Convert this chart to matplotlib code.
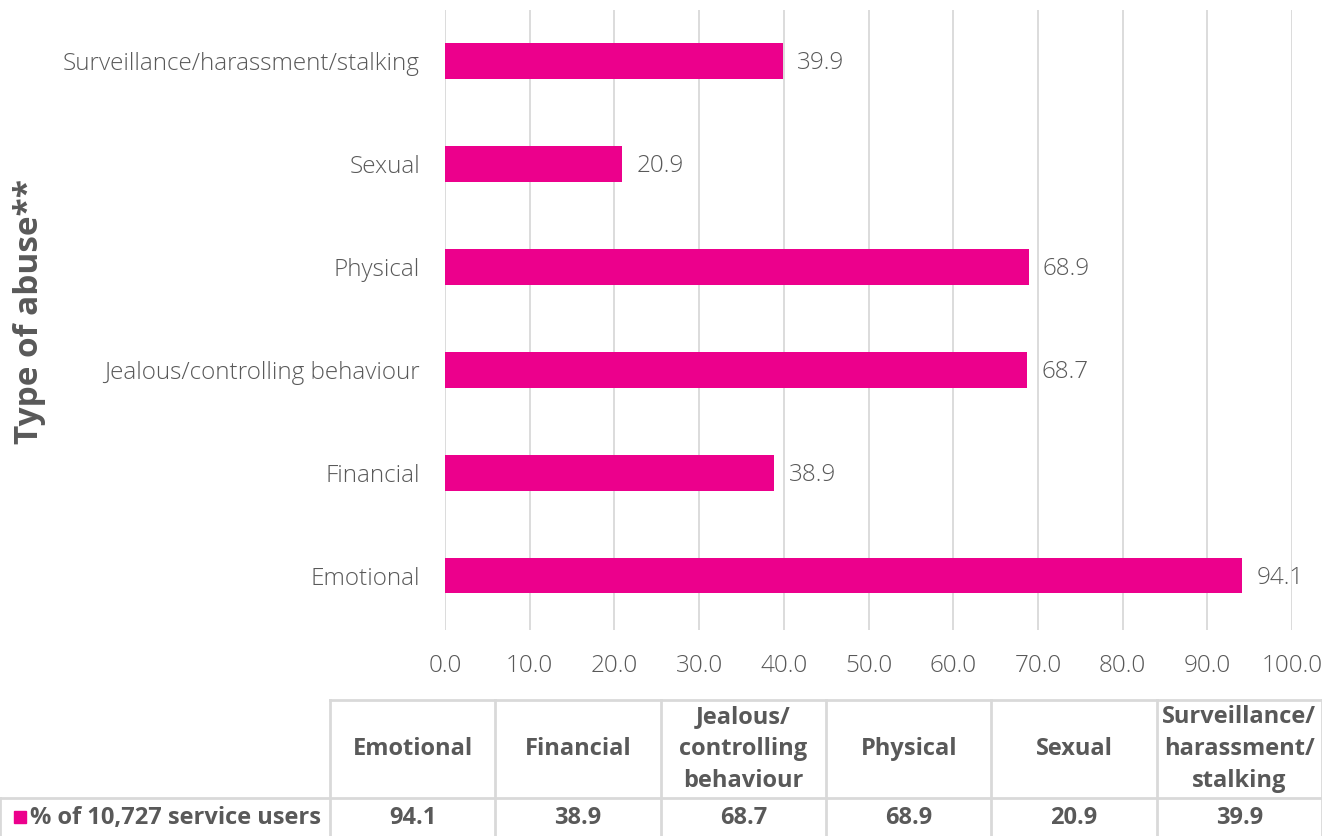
import matplotlib.pyplot as plt
import numpy as np

# Tipuri de abuz si procentele raportate
categorii = ["Emotional", "Financial", "Jealous/controlling behaviour",
             "Physical", "Sexual", "Surveillance/harassment/stalking"]
procente = [94.1, 38.9, 68.7, 68.9, 20.9, 39.9]
antet_tabel = ["Emotional", "Financial", "Jealous/\ncontrolling\nbehaviour",
               "Physical", "Sexual", "Surveillance/\nharassment/\nstalking"]
serie = "% of 10,727 service users"
axa_x = np.arange(0, 101, 10)

ROZ = "#EC008C"
GRI = "#595959"
LINIE = "#D9D9D9"

plt.rcParams["font.family"] = ["Open Sans", "DejaVu Sans"]

W, H = 1322, 836
fig = plt.figure(figsize=(W / 100, H / 100), dpi=100)

# Graficul cu bare orizontale
ax = fig.add_axes([445 / W, 1 - 630 / H, (1292 - 445) / W, (630 - 10) / H])
y = np.arange(len(categorii))
ax.barh(y, procente, height=0.35, color=ROZ, zorder=3)
for yi, v in zip(y, procente):
    ax.text(v + 1.7, yi - 0.02, f"{v:.1f}", va="center", ha="left",
            fontsize=17.5, color=GRI, fontweight="light")
ax.set_xlim(0, 100)
ax.set_ylim(-0.53, 5.5)
ax.set_xticks(axa_x)
ax.set_xticklabels([f"{t:.1f}" for t in axa_x], fontsize=17.5, color=GRI,
                   fontweight="light")
ax.set_yticks(y)
ax.set_yticklabels(categorii, fontsize=17.5, color=GRI, fontweight="light")
ax.tick_params(length=0, pad=17, axis="x")
ax.tick_params(length=0, pad=18, axis="y")
ax.grid(axis="x", color=LINIE, lw=1.3, zorder=0)
for s in ax.spines.values():
    s.set_visible(False)

# Titlul axei verticale
fig.text(30 / W, 1 - 311 / H, "Type of abuse**", rotation=90, ha="center",
         va="center", fontsize=24, fontweight="bold", color=GRI)

# Tabelul de date de sub grafic (coordonate in pixeli)
tb = fig.add_axes([0, 0, 1, 1])
tb.set_xlim(0, W)
tb.set_ylim(H, 0)
tb.axis("off")
x0, lat = 330, (W - 330) / len(categorii)
y_sus, y_mij, y_jos = 700, 798, 838
tb.plot([x0, W], [y_sus, y_sus], color=LINIE, lw=2)
tb.plot([0, W], [y_mij, y_mij], color=LINIE, lw=2)
tb.plot([0, 0], [y_mij, y_jos], color=LINIE, lw=2)
for i in range(len(categorii) + 1):
    xc = x0 + i * lat
    tb.plot([xc, xc], [y_sus, y_jos], color=LINIE, lw=2)
for i, (h, v) in enumerate(zip(antet_tabel, procente)):
    xc = x0 + (i + 0.5) * lat
    tb.text(xc, (y_sus + y_mij) / 2, h, ha="center", va="center",
            fontsize=17, fontweight="bold", color=GRI, linespacing=1.45)
    tb.text(xc, (y_mij + H) / 2 + 1, f"{v:.1f}", ha="center", va="center",
            fontsize=17, fontweight="bold", color=GRI)
tb.add_patch(plt.Rectangle((14, 811), 12, 12, color=ROZ))
tb.text(30, (y_mij + H) / 2 + 1, serie, ha="left", va="center",
        fontsize=17, fontweight="bold", color=GRI)

fig.savefig("out.png", dpi=100)
